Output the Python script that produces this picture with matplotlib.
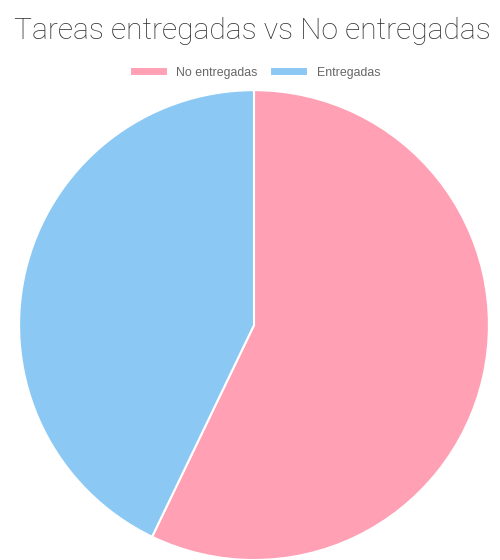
import matplotlib
matplotlib.use("Agg")
import matplotlib.pyplot as plt

# tareas por estado
labels = ["No entregadas", "Entregadas"]
values = [4, 3]
colors = ["#ffa0b4", "#8bc8f3"]

fig = plt.figure(figsize=(5, 5.6), dpi=100)
ax = fig.add_axes([0.038, 0.0, 0.94, 0.839])
wedges, _ = ax.pie(values, colors=colors, startangle=90, counterclock=False,
                   radius=1, wedgeprops=dict(edgecolor="white", linewidth=1.5))
ax.set_xlim(-1, 1)
ax.set_ylim(-1, 1)
ax.set_aspect("equal")
ax.axis("off")

fig.text(0.505, 1 - 31 / 560, "Tareas entregadas vs No entregadas",
         ha="center", va="center", fontsize=21.6, color="#333333",
         family="Roboto", fontweight="light")

fig.legend(wedges, labels, loc="center", bbox_to_anchor=(0.51, 1 - 73 / 560),
           ncol=2, frameon=False, prop=dict(family="Liberation Sans", size=8.9),
           labelcolor="#666666", handlelength=3.1, handleheight=0.8,
           handletextpad=0.67, columnspacing=1.0)

fig.savefig("out.png", dpi=100)
